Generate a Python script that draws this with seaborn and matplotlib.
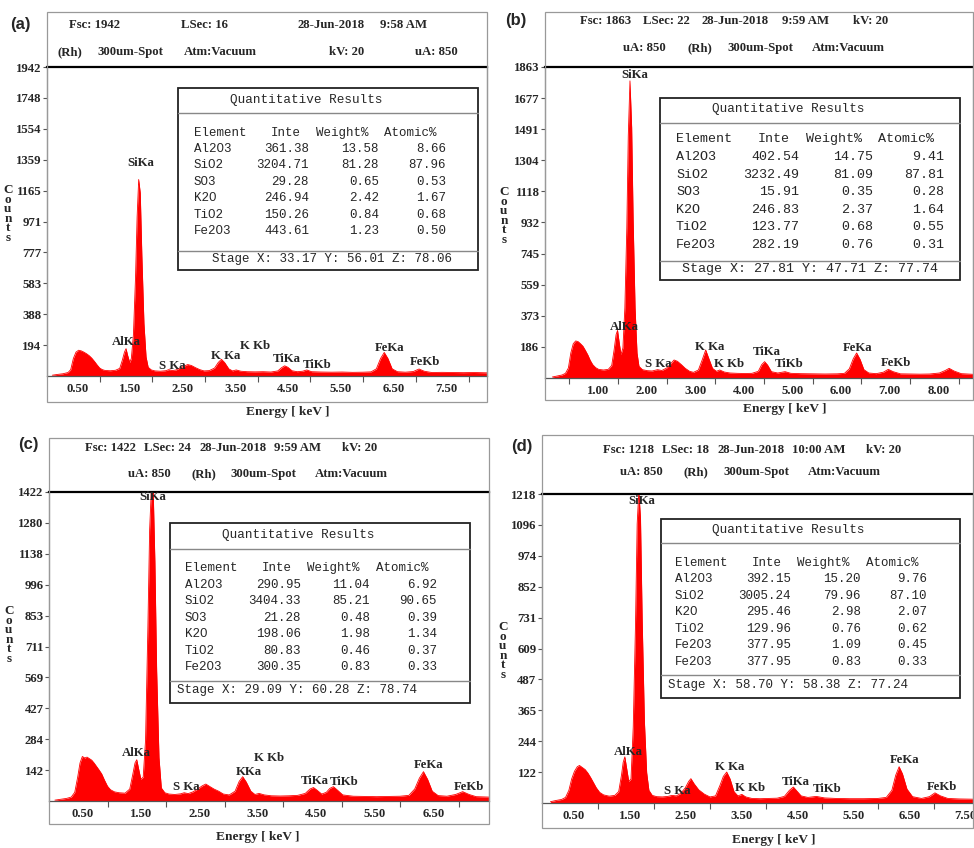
import pandas as pd
import seaborn as sns
import matplotlib.pyplot as plt
from matplotlib.patches import Rectangle
from matplotlib.lines import Line2D
from matplotlib.transforms import ScaledTranslation

# ================== spectra (keV, counts) ==================
energy_a = [0.10, 0.20, 0.30, 0.40, 0.45, 0.50, 0.55, 0.60, 0.65, 0.70, 0.75, 0.80, 0.85, 0.90,
            0.95, 1.00, 1.05, 1.10, 1.20, 1.30, 1.38, 1.43, 1.47, 1.50, 1.53, 1.57, 1.60, 1.64,
            1.68, 1.71, 1.74, 1.77, 1.80, 1.84, 1.88, 1.92, 1.98, 2.05, 2.15, 2.25, 2.31, 2.38,
            2.45, 2.52, 2.60, 2.67, 2.74, 2.82, 2.90, 2.98, 3.08, 3.18, 3.25, 3.31, 3.37, 3.45,
            3.52, 3.59, 3.68, 3.80, 3.95, 4.10, 4.25, 4.38, 4.45, 4.51, 4.57, 4.65, 4.75, 4.85,
            4.93, 5.02, 5.20, 5.40, 5.60, 5.80, 6.00, 6.15, 6.25, 6.33, 6.40, 6.47, 6.55, 6.65,
            6.80, 6.95, 7.06, 7.16, 7.30, 7.50, 7.70, 7.90, 8.10, 8.35]
counts_a = [5, 10, 14, 22, 40, 110, 150, 162, 158, 150, 140, 128, 112, 92,
            70, 50, 40, 35, 33, 36, 48, 100, 150, 172, 130, 85, 110, 260,
            620, 1000, 1235, 1150, 760, 330, 120, 55, 38, 32, 30, 33, 40, 34,
            38, 50, 62, 72, 66, 52, 40, 32, 34, 50, 85, 105, 85, 45,
            32, 38, 30, 27, 26, 27, 25, 32, 52, 64, 55, 33, 27, 30,
            38, 27, 25, 24, 25, 23, 24, 26, 45, 110, 148, 110, 45, 27,
            24, 28, 44, 30, 22, 23, 22, 21, 22, 20]

energy_b = [0.15, 0.25, 0.35, 0.42, 0.48, 0.53, 0.58, 0.63, 0.68, 0.73, 0.78, 0.83, 0.88, 0.93,
            0.98, 1.04, 1.10, 1.20, 1.30, 1.37, 1.42, 1.46, 1.49, 1.52, 1.56, 1.60, 1.64, 1.68,
            1.71, 1.745, 1.78, 1.81, 1.85, 1.89, 1.93, 2.00, 2.10, 2.20, 2.31, 2.40, 2.50, 2.58,
            2.65, 2.72, 2.80, 2.88, 2.97, 3.05, 3.15, 3.23, 3.30, 3.36, 3.44, 3.52, 3.59, 3.68,
            3.80, 3.95, 4.10, 4.25, 4.38, 4.45, 4.51, 4.57, 4.65, 4.78, 4.93, 5.05, 5.25, 5.50,
            5.75, 6.00, 6.15, 6.25, 6.33, 6.40, 6.47, 6.55, 6.65, 6.80, 6.95, 7.05, 7.15, 7.30,
            7.50, 7.70, 7.90, 8.10, 8.22, 8.30, 8.40, 8.55, 8.80]
counts_b = [6, 12, 18, 28, 60, 150, 205, 222, 218, 205, 190, 165, 138, 105,
            80, 62, 52, 48, 52, 75, 170, 260, 285, 220, 140, 180, 420, 900,
            1450, 1780, 1500, 950, 420, 150, 70, 50, 44, 42, 50, 45, 60, 85,
            108, 100, 80, 58, 40, 34, 48, 110, 168, 120, 58, 40, 48, 36,
            30, 28, 27, 28, 40, 80, 98, 78, 38, 30, 38, 28, 26, 25,
            24, 25, 28, 55, 115, 150, 112, 50, 30, 26, 35, 52, 38, 25,
            24, 23, 24, 30, 45, 58, 42, 26, 22]

energy_c = [0.10, 0.20, 0.30, 0.38, 0.44, 0.49, 0.53, 0.57, 0.61, 0.65, 0.69, 0.73, 0.77, 0.81,
            0.85, 0.90, 0.95, 1.00, 1.05, 1.12, 1.20, 1.30, 1.38, 1.43, 1.47, 1.50, 1.53, 1.57,
            1.61, 1.65, 1.69, 1.72, 1.75, 1.78, 1.81, 1.84, 1.88, 1.92, 1.98, 2.05, 2.15, 2.25,
            2.31, 2.38, 2.46, 2.54, 2.62, 2.68, 2.74, 2.82, 2.90, 2.98, 3.08, 3.18, 3.25, 3.31,
            3.37, 3.45, 3.52, 3.59, 3.68, 3.80, 3.95, 4.10, 4.25, 4.38, 4.46, 4.52, 4.58, 4.66,
            4.74, 4.80, 4.86, 4.93, 5.02, 5.20, 5.40, 5.60, 5.80, 6.00, 6.15, 6.25, 6.33, 6.40,
            6.47, 6.55, 6.65, 6.80, 6.95, 7.07, 7.18, 7.30, 7.52]
counts_c = [4, 8, 12, 18, 40, 110, 175, 205, 198, 202, 195, 188, 175, 160,
            145, 125, 95, 68, 52, 42, 38, 36, 55, 120, 175, 190, 150, 100,
            110, 280, 800, 1250, 1440, 1440, 1100, 600, 200, 60, 38, 32, 30, 33,
            38, 34, 42, 55, 70, 78, 68, 55, 45, 32, 28, 45, 90, 112,
            88, 45, 30, 35, 28, 24, 23, 24, 26, 35, 55, 62, 50, 32,
            40, 58, 66, 50, 28, 22, 21, 20, 21, 22, 26, 55, 105, 135,
            100, 45, 25, 22, 30, 43, 30, 20, 18]

energy_d = [0.15, 0.25, 0.35, 0.42, 0.48, 0.53, 0.58, 0.63, 0.67, 0.72, 0.77, 0.82, 0.87, 0.92,
            0.97, 1.03, 1.10, 1.20, 1.30, 1.37, 1.42, 1.45, 1.48, 1.51, 1.55, 1.59, 1.63, 1.67,
            1.70, 1.73, 1.76, 1.79, 1.83, 1.87, 1.91, 1.97, 2.05, 2.15, 2.25, 2.32, 2.40, 2.48,
            2.56, 2.62, 2.66, 2.72, 2.80, 2.90, 3.00, 3.10, 3.18, 3.24, 3.30, 3.36, 3.43, 3.50,
            3.57, 3.64, 3.75, 3.90, 4.05, 4.20, 4.33, 4.42, 4.49, 4.55, 4.63, 4.75, 4.90, 5.05,
            5.25, 5.50, 5.75, 6.00, 6.15, 6.25, 6.32, 6.38, 6.44, 6.52, 6.62, 6.78, 6.92, 7.02,
            7.12, 7.25, 7.45, 7.71]
counts_d = [5, 10, 14, 22, 50, 95, 125, 143, 148, 140, 132, 118, 100, 80,
            60, 42, 32, 27, 30, 45, 110, 160, 182, 140, 85, 95, 300, 700,
            1100, 1230, 1120, 720, 320, 120, 50, 30, 25, 24, 26, 30, 28, 38,
            60, 85, 96, 75, 52, 35, 24, 28, 70, 105, 122, 95, 45, 28,
            34, 24, 18, 17, 18, 19, 26, 50, 63, 48, 28, 22, 26, 20,
            18, 17, 17, 18, 22, 50, 110, 143, 115, 55, 25, 18, 25, 40,
            28, 18, 16, 15]

# ================== axis labels ==================
full_scale = [1942, 1863, 1422, 1218]
ytick_labels_a = ["194", "388", "583", "777", "971", "1165", "1359", "1554", "1748", "1942"]
ytick_labels_b = ["186", "373", "559", "745", "932", "1118", "1304", "1491", "1677", "1863"]
ytick_labels_c = ["142", "284", "427", "569", "711", "853", "996", "1138", "1280", "1422"]
ytick_labels_d = ["122", "244", "365", "487", "609", "731", "852", "974", "1096", "1218"]

xlabel_pos_a = [0.5, 1.5, 2.5, 3.5, 4.5, 5.5, 6.5, 7.5]
xlabels_a = ["0.50", "1.50", "2.50", "3.50", "4.50", "5.50", "6.50", "7.50"]
xlabel_pos_b = [1, 2, 3, 4, 5, 6, 7, 8]
xlabels_b = ["1.00", "2.00", "3.00", "4.00", "5.00", "6.00", "7.00", "8.00"]
xlabel_pos_c = [0.5, 1.5, 2.5, 3.5, 4.5, 5.5, 6.5]
xlabels_c = ["0.50", "1.50", "2.50", "3.50", "4.50", "5.50", "6.50"]
xlabel_pos_d = [0.5, 1.5, 2.5, 3.5, 4.5, 5.5, 6.5, 7.5]
xlabels_d = ["0.50", "1.50", "2.50", "3.50", "4.50", "5.50", "6.50", "7.50"]

xtick_a = [1, 2, 3, 4, 5, 6, 7, 8]
xtick_b = [0.5, 1.5, 2.5, 3.5, 4.5, 5.5, 6.5, 7.5, 8.5]
xtick_c = [1, 2, 3, 4, 5, 6, 7]
xtick_d = [1, 2, 3, 4, 5, 6, 7]

# ================== peak labels ==================
peaks_a = ["SiKa", "AlKa", "S Ka", "K Ka", "K Kb", "TiKa", "TiKb", "FeKa", "FeKb"]
peaks_c = ["SiKa", "AlKa", "S Ka", "KKa", "K Kb", "TiKa", "TiKb", "FeKa", "FeKb"]
peak_x_a = [1.77, 1.51, 2.38, 3.39, 3.94, 4.56, 5.13, 6.50, 7.18]
peak_y_a = [1336, 214, 63, 126, 189, 107, 69, 176, 88]
peak_x_b = [1.84, 1.64, 2.32, 3.39, 3.79, 4.55, 5.01, 6.43, 7.21]
peak_y_b = [1815, 308, 85, 188, 85, 157, 85, 182, 91]
peak_x_c = [1.78, 1.50, 2.35, 3.42, 3.76, 4.54, 5.05, 6.49, 7.17]
peak_y_c = [1400, 222, 65, 134, 199, 92, 88, 166, 65]
peak_x_d = [1.78, 1.54, 2.41, 3.36, 3.71, 4.54, 5.10, 6.48, 7.15]
peak_y_d = [1189, 201, 47, 142, 59, 83, 55, 170, 63]

# ================== quantitative results ==================
elements_a = ["Al2O3", "SiO2", "SO3", "K2O", "TiO2", "Fe2O3"]
inte_a = ["361.38", "3204.71", "29.28", "246.94", "150.26", "443.61"]
weight_a = ["13.58", "81.28", "0.65", "2.42", "0.84", "1.23"]
atomic_a = ["8.66", "87.96", "0.53", "1.67", "0.68", "0.50"]

elements_b = ["Al2O3", "SiO2", "SO3", "K2O", "TiO2", "Fe2O3"]
inte_b = ["402.54", "3232.49", "15.91", "246.83", "123.77", "282.19"]
weight_b = ["14.75", "81.09", "0.35", "2.37", "0.68", "0.76"]
atomic_b = ["9.41", "87.81", "0.28", "1.64", "0.55", "0.31"]

elements_c = ["Al2O3", "SiO2", "SO3", "K2O", "TiO2", "Fe2O3"]
inte_c = ["290.95", "3404.33", "21.28", "198.06", "80.83", "300.35"]
weight_c = ["11.04", "85.21", "0.48", "1.98", "0.46", "0.83"]
atomic_c = ["6.92", "90.65", "0.39", "1.34", "0.37", "0.33"]

elements_d = ["Al2O3", "SiO2", "K2O", "TiO2", "Fe2O3", "Fe2O3"]
inte_d = ["392.15", "3005.24", "295.46", "129.96", "377.95", "377.95"]
weight_d = ["15.20", "79.96", "2.98", "0.76", "1.09", "0.83"]
atomic_d = ["9.76", "87.10", "2.07", "0.62", "0.45", "0.33"]

stages = ["Stage X: 33.17 Y: 56.01 Z: 78.06", "Stage X: 27.81 Y: 47.71 Z: 77.74",
          "Stage X: 29.09 Y: 60.28 Z: 78.74", "Stage X: 58.70 Y: 58.38 Z: 77.24"]

header_a = ["Fsc: 1942", "LSec: 16", "28-Jun-2018", "9:58 AM",
            "(Rh)", "300um-Spot", "Atm:Vacuum", "kV: 20", "uA: 850"]
header_b = ["Fsc: 1863", "LSec: 22", "28-Jun-2018", "9:59 AM", "kV: 20",
            "uA: 850", "(Rh)", "300um-Spot", "Atm:Vacuum"]
header_c = ["Fsc: 1422", "LSec: 24", "28-Jun-2018", "9:59 AM", "kV: 20",
            "uA: 850", "(Rh)", "300um-Spot", "Atm:Vacuum"]
header_d = ["Fsc: 1218", "LSec: 18", "28-Jun-2018", "10:00 AM", "kV: 20",
            "uA: 850", "(Rh)", "300um-Spot", "Atm:Vacuum"]

# ================== layout (pixels) ==================
W, H = 974, 848
layouts = [
    dict(tag="(a)", tagxy=(20, 24), box=(47, 12, 487, 402), ax=(47, 67, 487, 376), xmax=8.35,
         head_xy=[(69, 25), (181, 25), (298, 25), (380, 25), (58, 52), (97, 52), (184, 52), (329, 52), (415, 52)],
         counts_xy=(8, 214), energy_xy=(288, 412),
         tbox=(178, 88, 478, 270), tseps=[113, 251], title_xy=(230, 100), head_y=133, row0=149, step=16.4,
         cols=(194, 271, 309, 316, 379, 384, 446), stage_xy=(212, 259), fs=9.0),
    dict(tag="(b)", tagxy=(516, 21), box=(545, 12, 973, 400), ax=(545, 67, 973, 378), xmax=8.79,
         head_xy=[(580, 21), (643, 21), (702, 21), (782, 21), (853, 21), (623, 48), (688, 48), (727, 48), (812, 48)],
         counts_xy=(504, 216), energy_xy=(785, 409),
         tbox=(660, 98, 960, 280), tseps=[123, 261], title_xy=(712, 109), head_y=139, row0=157, step=17.6,
         cols=(676, 758, 799, 806, 873, 878, 944), stage_xy=(682, 269), fs=9.6),
    dict(tag="(c)", tagxy=(28, 444), box=(49, 438, 489, 824), ax=(49, 492, 489, 801), xmax=7.52,
         head_xy=[(85, 448), (144, 448), (199, 448), (274, 448), (342, 448), (128, 474), (192, 474), (230, 474), (315, 474)],
         counts_xy=(9, 635), energy_xy=(258, 837),
         tbox=(170, 523, 470, 703), tseps=[549, 681], title_xy=(222, 535), head_y=568, row0=585, step=16.4,
         cols=(185, 262, 301, 307, 370, 376, 437), stage_xy=(177, 690), fs=9.0),
    dict(tag="(d)", tagxy=(522, 446), box=(542, 435, 973, 828), ax=(542, 494, 973, 803), xmax=7.70,
         head_xy=[(603, 450), (662, 450), (717, 450), (792, 450), (866, 450), (620, 472), (684, 472), (723, 472), (808, 472)],
         counts_xy=(503, 651), energy_xy=(774, 840),
         tbox=(661, 519, 960, 698), tseps=[543, 675], title_xy=(712, 530), head_y=563, row0=579, step=16.6,
         cols=(675, 752, 791, 797, 861, 866, 927), stage_xy=(668, 685), fs=9.0),
]

panels = [
    (energy_a, counts_a, ytick_labels_a, xlabel_pos_a, xlabels_a, xtick_a, peaks_a, peak_x_a, peak_y_a,
     header_a, elements_a, inte_a, weight_a, atomic_a),
    (energy_b, counts_b, ytick_labels_b, xlabel_pos_b, xlabels_b, xtick_b, peaks_a, peak_x_b, peak_y_b,
     header_b, elements_b, inte_b, weight_b, atomic_b),
    (energy_c, counts_c, ytick_labels_c, xlabel_pos_c, xlabels_c, xtick_c, peaks_c, peak_x_c, peak_y_c,
     header_c, elements_c, inte_c, weight_c, atomic_c),
    (energy_d, counts_d, ytick_labels_d, xlabel_pos_d, xlabels_d, xtick_d, peaks_a, peak_x_d, peak_y_d,
     header_d, elements_d, inte_d, weight_d, atomic_d),
]

sns.set_theme(style="white")
plt.rcParams["font.family"] = ["Liberation Serif", "DejaVu Serif"]
plt.rcParams["font.weight"] = "bold"

SERIF = ["Liberation Serif", "DejaVu Serif"]
MONO = ["Liberation Mono", "DejaVu Sans Mono"]
SANS = ["Liberation Sans", "DejaVu Sans"]


def fx(x):
    return x / W


def fy(y):
    return 1 - y / H


fig = plt.figure(figsize=(W / 100, H / 100), dpi=100)
fig.patch.set_facecolor("white")

for i, (L, P) in enumerate(zip(layouts, panels)):
    (energy, counts, ytl, xlab_pos, xlab, xtk, pnames, px_, py_,
     header, elements, inte, weight, atomic) = P
    ymax = full_scale[i]

    l, t, r, b = L["ax"]
    ax = fig.add_axes([fx(l), fy(b), (r - l) / W, (b - t) / H])
    df = pd.DataFrame({"Energy": energy, "Counts": counts})
    ax.fill_between(df["Energy"], 0, df["Counts"], color="#ff0000", lw=0)
    sns.lineplot(data=df, x="Energy", y="Counts", ax=ax, color="#ff0000", lw=0.6)
    ax.set_xlim(0, L["xmax"])
    ax.set_ylim(0, ymax)
    ax.set_xlabel("")
    ax.set_ylabel("")

    # ticks
    ax.set_yticks([ymax * k / 10 for k in range(1, 11)], ytl)
    ax.set_xticks(xlab_pos, xlab)
    ax.set_xticks(xtk, minor=True)
    ax.tick_params(axis="y", length=3, width=0.8, direction="out", pad=1, color="#555",
                   labelsize=9.2, left=True)
    ax.tick_params(axis="x", which="major", length=0, pad=5, labelsize=9.2)
    ax.tick_params(axis="x", which="minor", length=4, width=0.8, direction="out", color="#555",
                   bottom=True)
    shift = ScaledTranslation(0.04, 0, fig.dpi_scale_trans)
    for lab in ax.get_xticklabels():
        lab.set_transform(lab.get_transform() + shift)
        lab.set_fontweight("bold")
    for lab in ax.get_yticklabels():
        lab.set_fontweight("bold")

    # spines
    ax.spines["top"].set_color("black")
    ax.spines["top"].set_linewidth(1.6)
    ax.spines["bottom"].set_color("#555")
    ax.spines["bottom"].set_linewidth(0.9)
    for s in ["left", "right"]:
        ax.spines[s].set_color("#999")
        ax.spines[s].set_linewidth(0.9)

    # peak labels
    for name, xx, yy in zip(pnames, px_, py_):
        ax.text(xx, yy, name, ha="center", va="center", fontsize=9.2, fontweight="bold",
                family=SERIF, clip_on=False)

    # outer frame
    bl, bt, br, bb = L["box"]
    fig.add_artist(Rectangle((fx(bl), fy(bb)), (br - bl) / W, (bb - bt) / H, transform=fig.transFigure,
                             fill=False, edgecolor="#999", lw=0.9))

    # header
    for txt, (hx, hy) in zip(header, L["head_xy"]):
        fig.text(fx(hx), fy(hy), txt, ha="left", va="center", fontsize=9.2, fontweight="bold", family=SERIF)

    fig.text(fx(L["tagxy"][0]), fy(L["tagxy"][1]), L["tag"], ha="center", va="center",
             fontsize=12, fontweight="bold", family=SANS)
    fig.text(fx(L["counts_xy"][0]), fy(L["counts_xy"][1]), "C\no\nu\nn\nt\ns", ha="center", va="center",
             fontsize=9.5, fontweight="bold", family=SERIF, linespacing=0.72)
    fig.text(fx(L["energy_xy"][0]), fy(L["energy_xy"][1]), "Energy [ keV ]", ha="center", va="center",
             fontsize=9.6, fontweight="bold", family=SERIF)

    # quantitative results box
    tl, tt, tr, tb = L["tbox"]
    fig.add_artist(Rectangle((fx(tl), fy(tb)), (tr - tl) / W, (tb - tt) / H, transform=fig.transFigure,
                             facecolor="white", edgecolor="#222", lw=1.3, zorder=5))
    for ys in L["tseps"]:
        fig.add_artist(Line2D([fx(tl), fx(tr)], [fy(ys), fy(ys)], transform=fig.transFigure,
                              color="#888", lw=1.0, zorder=6))
    fs = L["fs"]
    fig.text(fx(L["title_xy"][0]), fy(L["title_xy"][1]), "Quantitative Results", ha="left", va="center",
             fontsize=9.1, fontweight="normal", family=MONO, zorder=7)
    c_el, c_ih, c_ir, c_wh, c_wr, c_ah, c_ar = L["cols"]
    hy = fy(L["head_y"])
    for txt, cx in [("Element", c_el), ("Inte", c_ih), ("Weight%", c_wh), ("Atomic%", c_ah)]:
        fig.text(fx(cx), hy, txt, ha="left", va="center", fontsize=fs, fontweight="normal",
                 family=MONO, zorder=7)
    for k in range(len(elements)):
        ry = fy(L["row0"] + k * L["step"])
        fig.text(fx(c_el), ry, elements[k], ha="left", va="center", fontsize=fs,
                 fontweight="normal", family=MONO, zorder=7)
        for txt, cx in [(inte[k], c_ir), (weight[k], c_wr), (atomic[k], c_ar)]:
            fig.text(fx(cx), ry, txt, ha="right", va="center", fontsize=fs,
                     fontweight="normal", family=MONO, zorder=7)
    fig.text(fx(L["stage_xy"][0]), fy(L["stage_xy"][1]), stages[i], ha="left", va="center",
             fontsize=fs, fontweight="normal", family=MONO, zorder=7)

fig.savefig("out.png", dpi=100, facecolor="white")
